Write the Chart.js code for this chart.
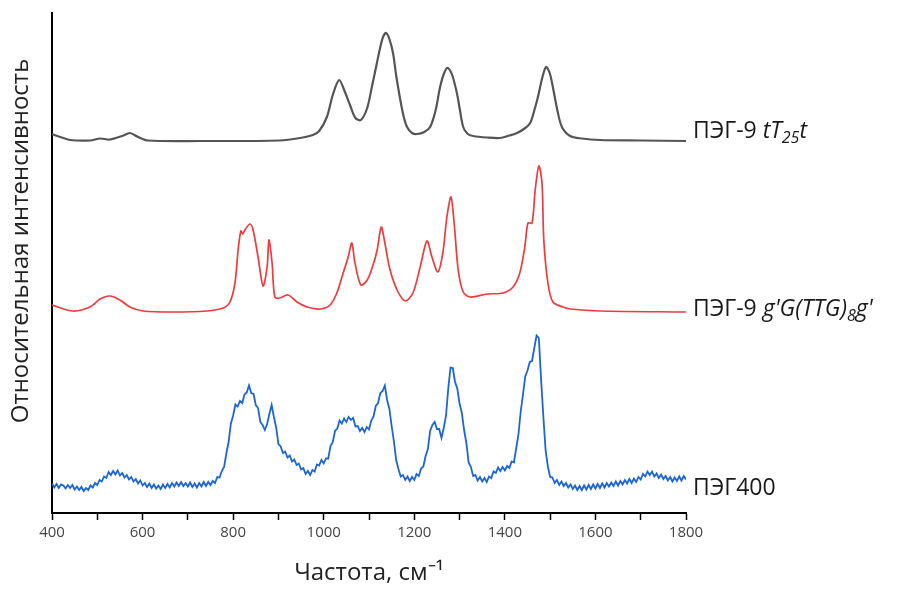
<!DOCTYPE html>
<html>
<head>
<meta charset="utf-8">
<script src="https://cdn.jsdelivr.net/npm/chart.js@4"></script>
<style>
  html, body { margin: 0; padding: 0; background: #fff; }
  canvas { display: block; }
</style>
</head>
<body>
<canvas id="myChart" width="905" height="590"></canvas>
<script>
// --- data (relative intensity, stacked with offsets as in the figure) ---
const xMin = 400;
const xMax = 1800;

// ПЭГ-9 tT25t (calculated)
const tt25X = [400, 418, 440, 484, 506, 528, 555, 572, 590, 612, 727, 903, 948, 976, 990, 1007, 1020, 1034, 1046, 1058, 1070, 1082, 1096, 1107, 1117, 1124, 1131, 1138, 1145, 1153, 1160, 1168, 1176, 1184, 1195, 1206, 1222, 1235, 1247, 1257, 1266, 1274, 1284, 1294, 1301, 1308, 1318, 1330, 1360, 1389, 1410, 1427, 1445, 1456, 1465, 1473, 1483, 1491, 1499, 1506, 1516, 1526, 1544, 1570, 1610, 1700, 1800];
const tt25Y = [75.8, 75.2, 74.6, 74.5, 74.9, 74.7, 75.4, 76.0, 75.2, 74.5, 74.4, 74.5, 75.0, 75.6, 76.4, 79.2, 83.6, 86.6, 84.4, 81.6, 79.0, 78.6, 81.0, 85.5, 89.8, 92.8, 95.2, 96.0, 94.8, 92.0, 87.5, 83.2, 79.5, 77.2, 76.0, 75.8, 76.2, 77.2, 80.5, 85.2, 88.0, 89.0, 87.5, 84.0, 80.5, 77.2, 75.8, 75.4, 75.1, 75.0, 75.5, 76.0, 77.0, 78.0, 80.5, 83.2, 87.2, 89.2, 88.0, 85.2, 80.5, 77.2, 75.4, 74.9, 74.6, 74.5, 74.4];

// ПЭГ-9 g'G(TTG)8g' (calculated)
const ttgX = [400, 446, 484, 506, 528, 550, 572, 601, 667, 742, 778, 793, 804, 811, 817, 821, 826, 837, 844, 855, 866, 875, 879, 886, 892, 903, 921, 941, 963, 992, 1014, 1029, 1043, 1054, 1062, 1069, 1082, 1096, 1109, 1118, 1127, 1135, 1146, 1162, 1180, 1197, 1213, 1228, 1239, 1252, 1263, 1272, 1281, 1288, 1297, 1308, 1323, 1361, 1396, 1418, 1433, 1444, 1451, 1460, 1467, 1475, 1482, 1486, 1495, 1506, 1528, 1544, 1610, 1800];
const ttgY = [41.6, 40.4, 41.2, 42.8, 43.4, 42.6, 41.2, 40.4, 40.2, 40.4, 41.0, 42.2, 46.0, 52.6, 56.4, 55.8, 56.6, 57.8, 56.6, 51.2, 45.4, 49.2, 54.6, 50.0, 43.2, 43.0, 43.6, 42.2, 41.2, 40.8, 41.6, 44.0, 48.0, 51.2, 54.0, 50.0, 45.6, 46.6, 49.6, 52.6, 57.2, 54.0, 48.8, 44.6, 42.4, 44.0, 49.2, 54.4, 51.2, 48.2, 52.0, 59.2, 63.2, 58.0, 48.6, 44.2, 43.2, 43.8, 44.0, 45.2, 48.0, 53.2, 58.0, 58.0, 64.6, 69.4, 66.0, 54.6, 46.0, 42.2, 41.2, 40.8, 40.4, 40.2];

// ПЭГ400 (measured), one value every 5 cm-1 from 400 to 1800
const peg400Start = 400;
const peg400Step = 5;
const peg400Y = [
  5.9, 5.1, 5.8, 5.0, 5.7, 5.5, 4.9, 5.6, 5.0, 5.6,
  4.7, 5.3, 4.6, 5.2, 4.4, 5.0, 4.6, 5.5, 5.1, 6.0,
  5.6, 6.6, 6.3, 7.3, 7.0, 8.2, 7.6, 8.4, 7.7, 8.5,
  7.5, 8.0, 7.1, 7.6, 6.7, 7.2, 6.3, 6.8, 5.9, 6.5,
  5.5, 6.0, 5.2, 5.9, 5.0, 5.7, 4.9, 5.5, 4.8, 5.7,
  5.0, 5.8, 5.1, 6.0, 5.3, 6.1, 5.4, 6.2, 5.4, 6.0,
  5.3, 6.1, 5.2, 5.9, 5.1, 6.0, 5.3, 6.2, 5.4, 6.2,
  5.6, 6.4, 6.0, 7.2, 7.1, 8.4, 9.2, 11.9, 14.2, 17.9,
  19.5, 21.7, 21.3, 22.4, 22.0, 23.7, 24.1, 25.5, 24.0, 23.8,
  21.6, 21.0, 18.2, 17.6, 16.6, 17.8, 19.8, 21.6, 19.2, 17.1,
  13.8, 13.3, 12.0, 12.3, 11.1, 11.5, 10.3, 10.7, 9.6, 9.9,
  8.7, 9.0, 7.8, 8.4, 7.6, 8.6, 8.3, 9.7, 9.5, 10.6,
  9.9, 10.9, 10.9, 13.4, 14.2, 16.4, 16.9, 18.5, 17.9, 18.9,
  18.2, 19.2, 18.6, 19.0, 17.3, 17.4, 16.4, 17.0, 16.2, 17.2,
  16.7, 18.5, 19.3, 21.4, 22.0, 24.0, 24.4, 25.5, 22.6, 20.8,
  17.4, 14.3, 10.6, 8.8, 7.3, 7.6, 6.6, 7.3, 6.4, 7.2,
  6.6, 7.8, 7.4, 8.9, 9.3, 11.4, 12.8, 16.4, 17.6, 18.2,
  16.8, 16.8, 15.0, 17.0, 19.4, 24.9, 29.1, 29.0, 26.2, 24.9,
  21.9, 20.0, 16.6, 14.0, 10.1, 9.2, 7.4, 7.6, 6.5, 7.2,
  6.3, 7.0, 6.2, 7.3, 7.0, 8.3, 8.0, 9.1, 8.4, 9.2,
  8.5, 9.4, 9.0, 10.3, 10.1, 12.9, 15.7, 20.3, 23.7, 27.3,
  28.5, 30.2, 30.4, 33.0, 35.5, 35.0, 26.7, 19.3, 12.5, 9.3,
  7.2, 7.1, 6.0, 6.6, 5.6, 6.3, 5.4, 6.0, 5.1, 5.7,
  4.8, 5.5, 4.6, 5.4, 4.6, 5.5, 4.7, 5.6, 4.8, 5.7,
  4.9, 5.8, 5.0, 5.9, 5.1, 6.0, 5.3, 6.1, 5.4, 6.3,
  5.5, 6.4, 5.7, 6.6, 5.9, 6.8, 6.0, 6.9, 6.2, 7.2,
  6.7, 7.8, 7.3, 8.3, 7.6, 8.3, 7.3, 7.9, 7.0, 7.7,
  6.8, 7.4, 6.5, 7.2, 6.3, 7.1, 6.4, 7.3, 6.5, 7.4,
  6.7
];

const yTitle = "Относительная интенсивность";
const xTitle = "Частота, см⁻¹";

// label segments: n = normal, i = italic, s = italic subscript
const tt25Label = [["ПЭГ-9 ", "n"], ["tT", "i"], ["25", "s"], ["t", "i"]];
const ttgLabel = [["ПЭГ-9 ", "n"], ["g'G(TTG)", "i"], ["8", "s"], ["g'", "i"]];
const peg400Label = [["ПЭГ400", "n"]];

const toPoints = (xs, ys) => xs.map((x, i) => ({ x: x, y: ys[i] }));
const peg400Points = peg400Y.map((y, i) => ({ x: peg400Start + i * peg400Step, y: y }));

const labelPlugin = {
  id: "labels",
  afterDraw(chart) {
    const ctx = chart.ctx;
    const area = chart.chartArea;
    const yScale = chart.scales.y;

    ctx.save();
    ctx.fillStyle = "#222";
    ctx.font = '24px "Open Sans"';
    ctx.textAlign = "center";
    ctx.textBaseline = "middle";
    ctx.translate(21, 241);
    ctx.rotate(-Math.PI / 2);
    ctx.fillText(yTitle, 0, 0);
    ctx.restore();

    const rows = [[tt25Label, 75.0], [ttgLabel, 39.4], [peg400Label, 3.6]];
    ctx.save();
    ctx.fillStyle = "#1a1a1a";
    ctx.textAlign = "left";
    ctx.textBaseline = "alphabetic";
    rows.forEach(([parts, val]) => {
      let x = area.right + 7;
      const base = yScale.getPixelForValue(val);
      parts.forEach(([txt, st]) => {
        let dy = 0;
        if (st === "n") ctx.font = '23px "Open Sans"';
        if (st === "i") ctx.font = 'italic 23px "Open Sans"';
        if (st === "s") { ctx.font = 'italic 16px "Open Sans"'; dy = 5; }
        ctx.fillText(txt, x, base + dy);
        x += ctx.measureText(txt).width;
      });
    });
    ctx.restore();
  }
};

const ctx = document.getElementById("myChart");

new Chart(ctx, {
  type: "line",
  data: {
    datasets: [
      {
        data: toPoints(tt25X, tt25Y),
        borderColor: "#555555",
        borderWidth: 2.2,
        tension: 0.3,
      },
      {
        data: toPoints(ttgX, ttgY),
        borderColor: "#f03a3c",
        borderWidth: 1.7,
        tension: 0.3,
      },
      {
        data: peg400Points,
        borderColor: "#1c64d9",
        borderWidth: 1.8,
        tension: 0,
      },
    ],
  },
  options: {
    responsive: false,
    animation: false,
    layout: { padding: { left: 0, right: 219, top: 13, bottom: 0 } },
    plugins: {
      legend: { display: false },
      tooltip: { enabled: false },
    },
    elements: { point: { radius: 0 } },
    scales: {
      x: {
        type: "linear",
        min: xMin,
        max: xMax,
        afterFit: (scale) => { scale.height = 77; },
        ticks: {
          stepSize: 100,
          autoSkip: false,
          maxRotation: 0,
          padding: 4,
          color: "#444",
          font: { family: "Open Sans", size: 15 },
          callback: (v) => (v % 200 === 0 ? v : ""),
        },
        grid: {
          drawOnChartArea: false,
          tickLength: 7,
          tickColor: "#000",
          tickWidth: 1.5,
        },
        border: { color: "#000", width: 2 },
        title: {
          display: true,
          text: xTitle,
          color: "#222",
          font: { family: "Open Sans", size: 24 },
          padding: { top: 0, bottom: 2 },
        },
      },
      y: {
        min: 0,
        max: 100,
        afterFit: (scale) => { scale.width = 52; },
        ticks: { display: false },
        grid: { display: false },
        border: { color: "#000", width: 2 },
      },
    },
  },
  plugins: [labelPlugin],
});
</script>
</body>
</html>
